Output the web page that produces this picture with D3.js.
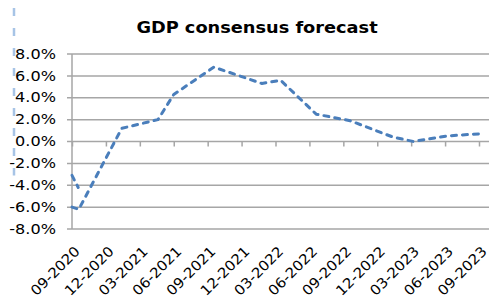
<!DOCTYPE html>
<html>
<head>
<meta charset="utf-8">
<script src="https://cdn.jsdelivr.net/npm/d3@7"></script>
<style>
  body { margin: 0; background: #fff; }
  svg { display: block; font-family: "DejaVu Sans", Verdana, sans-serif; }
</style>
</head>
<body>
<script>
// tick labels on the category axis (quarterly)
var quarterLabels = ["09-2020", "12-2020", "03-2021", "06-2021", "09-2021", "12-2021",
  "03-2022", "06-2022", "09-2022", "12-2022", "03-2023", "06-2023", "09-2023"];
var quarterMonths = [0, 3, 6, 9, 12, 15, 18, 21, 24, 27, 30, 33, 36];

// consensus forecast, months after 09-2020 and GDP growth in %
var forecastMonths = [0, 0.6, 4.4, 7.6, 9.0, 12.55, 16.8, 18.45, 21.6, 24.6, 28.4, 30.2, 33.1, 36];
var forecastGdp    = [-6.0, -6.2, 1.2, 2.0, 4.3, 6.8, 5.3, 5.6, 2.5, 1.9, 0.4, 0.0, 0.5, 0.7];

// short stray piece at the left edge
var strayMonths = [0, 0.55];
var strayGdp    = [-3.1, -4.2];

var yTicks = [-8, -6, -4, -2, 0, 2, 4, 6, 8];

var W = 489, H = 302;
var margin = {top: 54, right: 10, bottom: 73, left: 72},
    width = 479 - margin.left,
    height = H - margin.top - margin.bottom;

var svg = d3.select("body")
  .append("svg")
    .attr("width", W)
    .attr("height", H);

var x = d3.scaleLinear()
  .domain([0, 36])
  .range([margin.left, margin.left + width]);

var y = d3.scaleLinear()
  .domain([-8, 8])
  .range([margin.top + height, margin.top]);

// title
svg.append("text")
  .attr("transform", "translate(257,33) scale(1.11,1)")
  .attr("text-anchor", "middle")
  .style("font-size", "16px")
  .style("font-weight", "bold")
  .text("GDP consensus forecast");

// horizontal gridlines
svg.append("g")
  .selectAll("line")
  .data(yTicks)
  .enter()
  .append("line")
    .attr("x1", margin.left - 5)
    .attr("x2", W)
    .attr("y1", function(d) { return y(d); })
    .attr("y2", function(d) { return y(d); })
    .attr("stroke", "#a6a6a6")
    .attr("stroke-width", 1.5);

// y axis line
svg.append("line")
  .attr("x1", margin.left).attr("x2", margin.left)
  .attr("y1", y(8)).attr("y2", y(-8))
  .attr("stroke", "#a6a6a6")
  .attr("stroke-width", 1.5);

// y labels
svg.append("g")
  .selectAll("text")
  .data(yTicks)
  .enter()
  .append("text")
    .attr("transform", function(d) { return "translate(56," + y(d) + ") scale(1.15,1)"; })
    .attr("text-anchor", "end")
    .attr("dominant-baseline", "central")
    .style("font-size", "14px")
    .style("fill", "#000")
    .text(function(d) { return d.toFixed(1) + "%"; });

// x axis along the zero line, ticks only
var xAxis = svg.append("g")
  .attr("transform", "translate(0," + y(0) + ")")
  .call(d3.axisBottom(x).tickValues(quarterMonths).tickSize(5).tickFormat(""));
xAxis.select(".domain").remove();
xAxis.selectAll(".tick line").attr("stroke", "#a6a6a6").attr("stroke-width", 1.5);

// rotated category labels at the bottom
svg.append("g")
  .selectAll("text")
  .data(quarterMonths)
  .enter()
  .append("text")
    .attr("transform", function(d) { return "translate(" + (x(d) + 1.5) + ",245) rotate(-45) scale(1.07,1)"; })
    .attr("text-anchor", "end")
    .attr("dy", "0.74em")
    .style("font-size", "14px")
    .text(function(d, i) { return quarterLabels[i]; });

// light dashed marker at the far left
svg.append("line")
  .attr("x1", 14).attr("x2", 14)
  .attr("y1", 8).attr("y2", y(strayGdp[0]))
  .attr("stroke", "#a7c4e6")
  .attr("stroke-width", 2.5)
  .attr("stroke-dasharray", "8,12");

var line = d3.line()
  .x(function(d) { return x(d[0]); })
  .y(function(d) { return y(d[1]); });

svg.append("path")
  .datum(d3.zip(strayMonths, strayGdp))
  .attr("d", line)
  .attr("fill", "none")
  .attr("stroke", "#4a7ebb")
  .attr("stroke-width", 3)
  .attr("stroke-linecap", "round")
  .attr("stroke-dasharray", "5,6");

svg.append("path")
  .datum(d3.zip(forecastMonths, forecastGdp))
  .attr("d", line)
  .attr("fill", "none")
  .attr("stroke", "#4a7ebb")
  .attr("stroke-width", 3)
  .attr("stroke-linecap", "round")
  .attr("stroke-linejoin", "round")
  .attr("stroke-dasharray", "5,6");
</script>
</body>
</html>
